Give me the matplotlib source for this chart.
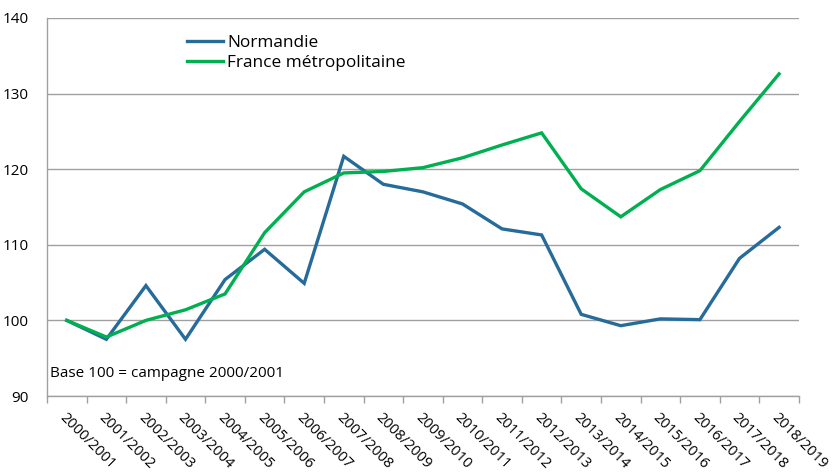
import matplotlib.pyplot as plt
import numpy as np

plt.rcParams['font.family'] = ['Open Sans', 'DejaVu Sans']

campagnes = ["2000/2001", "2001/2002", "2002/2003", "2003/2004", "2004/2005",
             "2005/2006", "2006/2007", "2007/2008", "2008/2009", "2009/2010",
             "2010/2011", "2011/2012", "2012/2013", "2013/2014", "2014/2015",
             "2015/2016", "2016/2017", "2017/2018", "2018/2019"]
normandie = [100, 97.5, 104.6, 97.5, 105.4, 109.4, 104.9, 121.7, 118.0, 117.0,
             115.4, 112.1, 111.3, 100.8, 99.3, 100.2, 100.1, 108.2, 112.3]
france = [100, 97.8, 100.0, 101.4, 103.5, 111.6, 117.0, 119.5, 119.7, 120.2,
          121.5, 123.2, 124.8, 117.4, 113.7, 117.3, 119.8, 126.3, 132.6]

fig = plt.figure(figsize=(8.33, 4.72), dpi=100)
ax = fig.add_axes([0.0564, 0.161, 0.9026, 0.801])

x = np.arange(len(campagnes))
ax.plot(x, normandie, color='#266B9A', lw=2.4, label='Normandie', solid_joinstyle='miter')
ax.plot(x, france, color='#00B050', lw=2.4, label='France métropolitaine', solid_joinstyle='miter')

ax.set_xlim(-0.5, len(campagnes) - 0.5)
ax.set_ylim(90, 140)
ax.set_yticks([90, 100, 110, 120, 130, 140])
ax.yaxis.grid(True, color='#A0A0A0', lw=1)
ax.set_axisbelow(True)
ax.tick_params(axis='y', length=0, pad=13, labelsize=11)

ax.set_xticks(x)
ax.set_xticklabels(campagnes, rotation=-45, ha='left', va='top', rotation_mode='anchor', fontsize=10.5)
ax.set_xticks(np.arange(-0.5, len(campagnes)), minor=True)
ax.tick_params(axis='x', which='major', length=0, pad=10)
ax.tick_params(axis='x', which='minor', length=5, color='#A0A0A0', width=1)

for s in ['top', 'right']:
    ax.spines[s].set_visible(False)
for s in ['left', 'bottom']:
    ax.spines[s].set_color('#A0A0A0')
    ax.spines[s].set_linewidth(1)

ax.text(0.004, 0.05, 'Base 100 = campagne 2000/2001', transform=ax.transAxes, fontsize=11)

ax.legend(loc='upper left', bbox_to_anchor=(0.166, 0.995), frameon=False, fontsize=12.4,
          handlelength=2.1, handletextpad=0.2, labelspacing=0.2)

fig.savefig('out.png', dpi=100)
